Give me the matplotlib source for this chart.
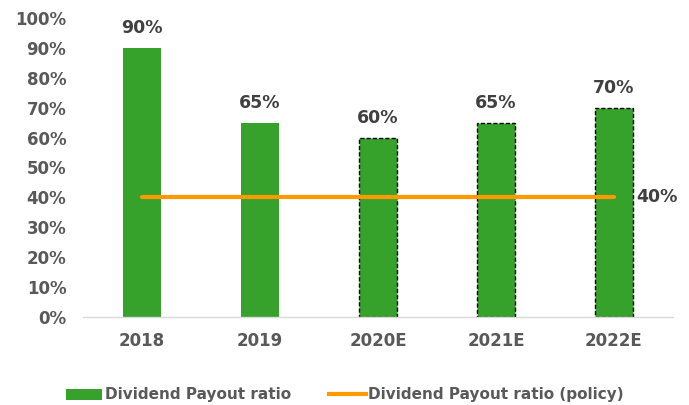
import numpy as np
import matplotlib.pyplot as plt
from matplotlib.lines import Line2D
from matplotlib.patches import Patch

# 数据
years = ['2018', '2019', '2020E', '2021E', '2022E']
payout = [90, 65, 60, 65, 70]
policy = [40, 40, 40, 40, 40]
estimated = [False, False, True, True, True]

green = '#37a22b'
orange = '#ff9900'
tick_col = '#595959'
label_col = '#404040'

plt.rcParams['font.family'] = ['DejaVu Sans']
plt.rcParams['font.weight'] = 'bold'

fig = plt.figure(figsize=(6.89, 4.05), dpi=100)
ax = fig.add_axes([83 / 689, 1 - 317 / 405, 590 / 689, 299 / 405])

x = np.arange(len(years))
for xi, val, est in zip(x, payout, estimated):
    if est:
        ax.bar(xi, val, width=0.32, color=green, edgecolor='black',
               linestyle=(0, (3, 1.5)), linewidth=1.0, zorder=2)
    else:
        ax.bar(xi, val, width=0.32, color=green, zorder=2)
    ax.text(xi, val + 3.5, f'{val}%', ha='center', va='bottom',
            fontsize=12.5, fontweight='bold', color=label_col)

ax.plot(x, policy, color=orange, linewidth=3, solid_capstyle='round', zorder=3)
ax.text(x[-1] + 0.185, policy[-1], f'{policy[-1]}%', ha='left', va='center',
        fontsize=12.5, fontweight='bold', color=label_col)

ax.set_xlim(-0.5, 4.5)
ax.set_ylim(0, 100)
ax.set_yticks(range(0, 101, 10))
ax.set_yticklabels([f'{v}%' for v in range(0, 101, 10)])
ax.set_xticks(x)
ax.set_xticklabels(years)
ax.tick_params(axis='both', length=0, labelsize=12, colors=tick_col)
ax.tick_params(axis='y', pad=12)
ax.tick_params(axis='x', pad=11)
for lab in ax.get_xticklabels() + ax.get_yticklabels():
    lab.set_fontweight('bold')

for s in ['top', 'right', 'left']:
    ax.spines[s].set_visible(False)
ax.spines['bottom'].set_color('#d9d9d9')
ax.spines['bottom'].set_linewidth(1)

handles = [Patch(facecolor=green, edgecolor='none'),
           Line2D([0], [0], color=orange, linewidth=3)]
fig.legend(handles, ['Dividend Payout ratio', 'Dividend Payout ratio (policy)'],
           loc='center', bbox_to_anchor=(0.5, 1 - 395 / 405), ncol=2, frameon=False,
           prop={'size': 11, 'weight': 'bold'}, labelcolor=tick_col,
           handlelength=2.4, handletextpad=0.15, columnspacing=2.5)

fig.savefig('out.png', dpi=100)
